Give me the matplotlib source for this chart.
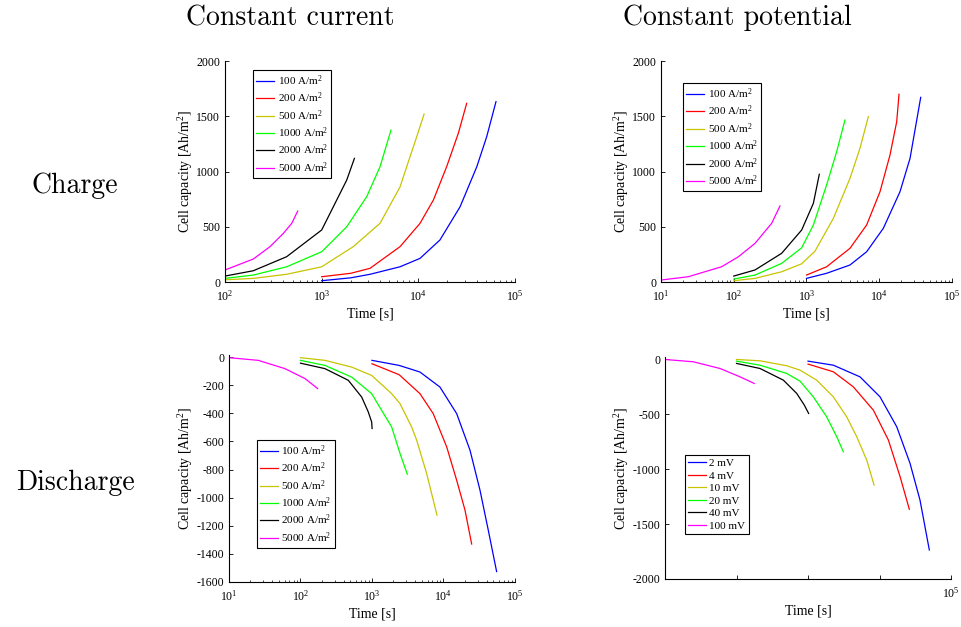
#!/usr/bin/env python3
"""
Cell capacity vs time: constant current / constant potential, charge / discharge.
"""
import numpy as np
import matplotlib
matplotlib.use("Agg")
import matplotlib.pyplot as plt
from matplotlib import ticker

plt.rcParams['font.family'] = ['Liberation Serif', 'DejaVu Serif']
plt.rcParams['mathtext.fontset'] = 'custom'
plt.rcParams['mathtext.rm'] = 'Liberation Serif'
plt.rcParams['mathtext.it'] = 'Liberation Serif:italic'
plt.rcParams['axes.unicode_minus'] = False

colors_ = ['#0000ff', '#ff0000', '#c8c400', '#00ff00', '#000000', '#ff00ff']
current_labels = ['100 A/m$^2$', '200 A/m$^2$', '500 A/m$^2$',
                  '1000 A/m$^2$', '2000 A/m$^2$', '5000 A/m$^2$']
potential_labels = ['2 mV', '4 mV', '10 mV', '20 mV', '40 mV', '100 mV']

# --- constant current, charge (time [s], capacity [Ah/m2]) ---
cc_charge_t = [
    [1000, 2000, 3160, 6460, 10400, 16700, 27000, 40200, 50900, 63500],
    [1000, 2000, 3160, 6460, 10400, 14300, 19600, 25900, 31600],
    [100, 196, 434, 1000, 2120, 4010, 6460, 8200, 9620, 11460],
    [100, 196, 434, 1000, 1816, 2920, 4010, 5210],
    [100, 196, 434, 1000, 1430, 1816, 2180],
    [100, 196, 292, 401, 490, 565],
]
cc_charge_q = [
    [12, 38, 70, 138, 214, 380, 681, 1043, 1315, 1632],
    [48, 79, 124, 320, 531, 742, 1043, 1346, 1617],
    [20, 33, 70, 138, 320, 531, 860, 1134, 1315, 1520],
    [33, 63, 138, 274, 500, 772, 1043, 1375],
    [54, 102, 229, 471, 742, 923, 1119],
    [109, 208, 320, 440, 531, 642],
]

# --- constant potential, charge ---
cp_charge_t = [
    [1000, 1890, 3960, 6710, 11380, 19280, 26500, 37150],
    [1000, 1890, 3960, 6710, 10240, 14050, 17380, 18700],
    [100, 196, 456, 859, 1310, 2340, 3960, 5430, 7080],
    [100, 196, 456, 859, 1243, 1890, 2600, 3380],
    [100, 196, 456, 859, 1243, 1500],
    [10, 23.7, 68, 116, 196, 332, 432],
]
cp_charge_q = [
    [33, 79, 154, 274, 486, 817, 1119, 1671],
    [63, 138, 305, 516, 817, 1149, 1451, 1699],
    [12, 33, 93, 165, 280, 576, 938, 1210, 1496],
    [27, 63, 169, 310, 516, 878, 1180, 1466],
    [54, 109, 260, 471, 712, 975],
    [18, 48, 138, 229, 350, 531, 688],
]

# --- constant current, discharge ---
cc_dis_t = [
    [1000, 2400, 4690, 8930, 15300, 23500, 32400, 42300, 55400],
    [1000, 2400, 4690, 7190, 11100, 15300, 20000, 24800],
    [100, 220, 520, 990, 1885, 2470, 3590, 4220, 5820, 8110],
    [100, 220, 520, 990, 1885, 2470, 3120],
    [100, 220, 467, 718, 888, 990, 1005],
    [10, 25.7, 60.7, 116, 174],
]
cc_dis_q = [
    [-23, -59, -106, -213, -402, -662, -946, -1230, -1526],
    [-47, -125, -260, -402, -639, -876, -1088, -1330],
    [-4, -23, -71, -130, -260, -331, -497, -591, -828, -1124],
    [-23, -59, -142, -260, -497, -686, -833],
    [-43, -82, -165, -284, -390, -461, -508],
    [-4, -23, -82, -153, -224],
]

# --- constant potential, discharge ---
cp_dis_t = [
    [1000, 2260, 5330, 10160, 17400, 26700, 36800, 49700],
    [1000, 2260, 4300, 8200, 13300, 19400, 26100],
    [100, 213, 503, 773, 1321, 2260, 3470, 4800, 6620, 8380],
    [100, 213, 503, 773, 1186, 1820, 2520, 3120],
    [100, 213, 452, 695, 887, 1020],
    [10, 24.9, 58.8, 112, 177],
]
cp_dis_q = [
    [-18, -55, -161, -343, -615, -948, -1282, -1736],
    [-45, -115, -252, -464, -736, -1070, -1366],
    [-3, -15, -60, -100, -191, -343, -524, -706, -918, -1145],
    [-18, -55, -130, -200, -343, -524, -706, -843],
    [-39, -85, -191, -312, -418, -494],
    [-3, -24, -85, -161, -221],
]


def style_axes(ax, xlim, ylim, yticks):
    ax.set_xscale('log')
    ax.set_xlim(*xlim)
    ax.set_ylim(*ylim)
    ax.set_yticks(yticks)
    ax.spines['top'].set_visible(False)
    ax.spines['right'].set_visible(False)
    ax.spines['left'].set_linewidth(0.8)
    ax.spines['bottom'].set_linewidth(0.8)
    ax.tick_params(which='major', direction='in', length=3, width=0.6,
                   labelsize=8.5)
    ax.tick_params(axis='x', which='major', pad=5)
    ax.tick_params(which='minor', direction='in', length=1.8, width=0.5)
    ax.set_xlabel('Time [s]', fontsize=10, labelpad=3)
    ax.set_ylabel('Cell capacity [Ah/m$^2$]', fontsize=10, labelpad=1)


def draw(ax, ts, qs, labels, anchor):
    for t, q, c, lab in zip(ts, qs, colors_, labels):
        ax.plot(t, q, color=c, lw=0.9, label=lab)
    leg = ax.legend(loc='upper left', bbox_to_anchor=anchor, borderaxespad=0,
                    fontsize=8, fancybox=False, framealpha=1, edgecolor='black',
                    handlelength=1.6, handletextpad=0.3, labelspacing=0.25,
                    borderpad=0.3)
    leg.get_frame().set_linewidth(0.8)


fig = plt.figure(figsize=(9.62, 6.27), dpi=100)

ax1 = fig.add_axes([0.2339, 0.5502, 0.3015, 0.3525])
draw(ax1, cc_charge_t, cc_charge_q, current_labels, (0.097, 0.96))
style_axes(ax1, (1e2, 1e5), (0, 2000), [0, 500, 1000, 1500, 2000])

ax2 = fig.add_axes([0.6871, 0.5502, 0.3025, 0.3525])
draw(ax2, cp_charge_t, cp_charge_q, current_labels, (0.076, 0.90))
style_axes(ax2, (1e1, 1e5), (0, 2000), [0, 500, 1000, 1500, 2000])

ax3 = fig.add_axes([0.2380, 0.0718, 0.2973, 0.3620])
draw(ax3, cc_dis_t, cc_dis_q, current_labels, (0.098, 0.626))
style_axes(ax3, (1e1, 1e5), (-1600, 15), list(range(-1600, 1, 200)))

ax4 = fig.add_axes([0.6913, 0.0766, 0.2973, 0.3541])
draw(ax4, cp_dis_t, cp_dis_q, potential_labels, (0.070, 0.559))
style_axes(ax4, (1e1, 1e5), (-2000, 20), list(range(-2000, 1, 500)))
ax4.set_xticks([1e1, 1e2, 1e3, 1e4, 1e5])
ax4.set_xticklabels(['', '', '', '', '$10^5$'])
ax4.xaxis.set_minor_locator(ticker.NullLocator())

# column / row headings
fig.text(290 / 962, 1 - 18 / 627, 'Constant current', family='cmr10',
         fontsize=20, ha='center', va='center')
fig.text(737 / 962, 1 - 18 / 627, 'Constant potential', family='cmr10',
         fontsize=20, ha='center', va='center')
fig.text(75 / 962, 1 - 186 / 627, 'Charge', family='cmr10',
         fontsize=20, ha='center', va='center')
fig.text(75 / 962, 1 - 483 / 627, 'Discharge', family='cmr10',
         fontsize=20, ha='center', va='center')

fig.savefig('out.png', dpi=100)
